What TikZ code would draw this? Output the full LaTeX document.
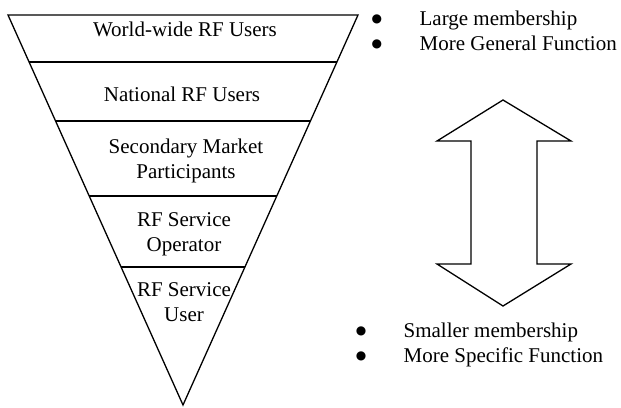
\documentclass[tikz,border=0pt]{standalone}
\usepackage{fontspec}
\setmainfont{Liberation Serif}
\newfontfamily\symbolfont{DejaVu Sans}
\usetikzlibrary{calc}

\newcommand{\notebullet}[1]{\makebox[#1][l]{\raisebox{3pt}{\symbolfont\fontsize{12}{12}\selectfont ●}}}

\begin{document}
\begin{tikzpicture}[x=1pt, y=-1pt, line width=1.3pt,
    layer/.style={align=center, inner sep=0pt, font=\fontsize{21}{25}\selectfont},
    notes/.style={align=left, anchor=west, inner sep=0pt, font=\fontsize{21}{25}\selectfont}]
    \useasboundingbox (0,0) rectangle (621,407);

    % Define corners of the inverted triangle
    \coordinate (topleft) at (8,15);
    \coordinate (topright) at (358,15);
    \coordinate (apex) at (183,405);
    \draw (topleft) -- (topright) -- (apex) -- cycle;

    % Lines between the layers
    \draw ($(topleft)!0.1205!(apex)$) -- ($(topright)!0.1205!(apex)$);
    \draw ($(topleft)!0.2718!(apex)$) -- ($(topright)!0.2718!(apex)$);
    \draw ($(topleft)!0.4641!(apex)$) -- ($(topright)!0.4641!(apex)$);
    \draw ($(topleft)!0.6462!(apex)$) -- ($(topright)!0.6462!(apex)$);

    % Layer labels
    \node[layer] (worldwide) at (185,29.8) {World-wide RF Users};
    \node[layer] (national) at (182,94.8) {National RF Users};
    \node[layer] (secondary) at (186,160.6) {Secondary Market\\Participants};
    \node[layer] (operator) at (184,234.7) {RF Service\\Operator};
    \node[layer] (user) at (184,302.4) {RF Service\\User};

    % Double arrow between the two notes
    \draw (503,100) -- (571,141) -- (537,141) -- (537,264) -- (571,264) -- (503,306)
        -- (437,264) -- (471,264) -- (471,141) -- (437,141) -- cycle;

    % Notes for the top and bottom of the pyramid
    \node[notes] (general) at (370.9,30.9) {\notebullet{48.1pt}Large membership\\
        \notebullet{48.1pt}More General Function};
    \node[notes] (specific) at (355.2,344.9) {\notebullet{47.8pt}Smaller membership\\
        \notebullet{47.8pt}More Specific Function};
\end{tikzpicture}
\end{document}
